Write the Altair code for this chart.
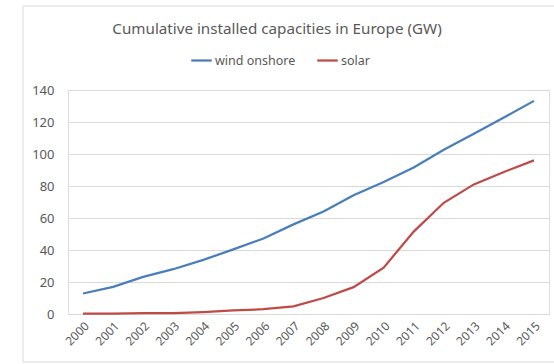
import altair as alt
import pandas as pd

title_text = "Cumulative installed capacities in Europe (GW)"
years = [str(y) for y in range(2000, 2016)]
wind_onshore = [12.8, 17.0, 23.2, 28.0, 33.8, 40.4, 47.2, 56.0, 64.0, 74.2, 82.5, 91.6, 102.6, 112.6, 122.8, 133.2]
solar = [0.2, 0.3, 0.5, 0.6, 1.2, 2.2, 3.0, 4.8, 10.0, 16.8, 29.0, 51.5, 69.5, 81.0, 88.8, 96.0]
series_names = ["wind onshore", "solar"]
series_colors = ["#4A7EBB", "#BE4B48"]

rows = []
for i, y in enumerate(years):
    rows.append({"year": y, "series": series_names[0], "value": wind_onshore[i]})
    rows.append({"year": y, "series": series_names[1], "value": solar[i]})
df = pd.DataFrame(rows)

FONT = "Noto Sans"
GRAY = "#595959"

border = alt.Chart(pd.DataFrame({"a": [0]})).mark_rect(
    fill=None, stroke="#D9D9D9", strokeWidth=1
).encode(
    x=alt.value(-45), x2=alt.value(600), y=alt.value(-84), y2=alt.value(272)
)

title = alt.Chart(pd.DataFrame({"t": [title_text]})).mark_text(
    font=FONT, fontSize=15.2, color=GRAY, align="center", baseline="middle"
).encode(
    x=alt.value(209), y=alt.value(-61), text="t:N"
)

lines = alt.Chart(df).mark_line(strokeWidth=2.25).encode(
    x=alt.X("year:N", sort=years, scale=alt.Scale(type="point", padding=0.5),
            axis=alt.Axis(title=None, labelAngle=-45, ticks=False, domain=False,
                          labelFontSize=12, labelColor=GRAY, labelFont=FONT, labelPadding=6)),
    y=alt.Y("value:Q", scale=alt.Scale(domain=[0, 140]),
            axis=alt.Axis(title=None, values=[0, 20, 40, 60, 80, 100, 120, 140], ticks=False, domain=False,
                          labelFontSize=13, labelColor=GRAY, labelFont=FONT, labelPadding=14,
                          gridColor="#D9D9D9", gridWidth=1)),
    color=alt.Color("series:N", sort=series_names,
                    scale=alt.Scale(domain=series_names, range=series_colors),
                    legend=alt.Legend(title=None, orient="none", legendX=122, legendY=-41,
                                      direction="horizontal", symbolType="stroke",
                                      symbolSize=420, symbolStrokeWidth=2.25,
                                      labelFontSize=12.5, labelColor=GRAY, labelFont=FONT,
                                      labelOffset=2, columnPadding=16)),
)

chart = alt.layer(border, title, lines).properties(
    width=481, height=224,
    autosize=alt.AutoSizeParams(type="none"),
    padding={"left": 68, "top": 90, "right": 5, "bottom": 50},
).configure_view(stroke=None).configure(background="white")

chart.save("out.html", embed_options={"renderer": "svg", "actions": False})
